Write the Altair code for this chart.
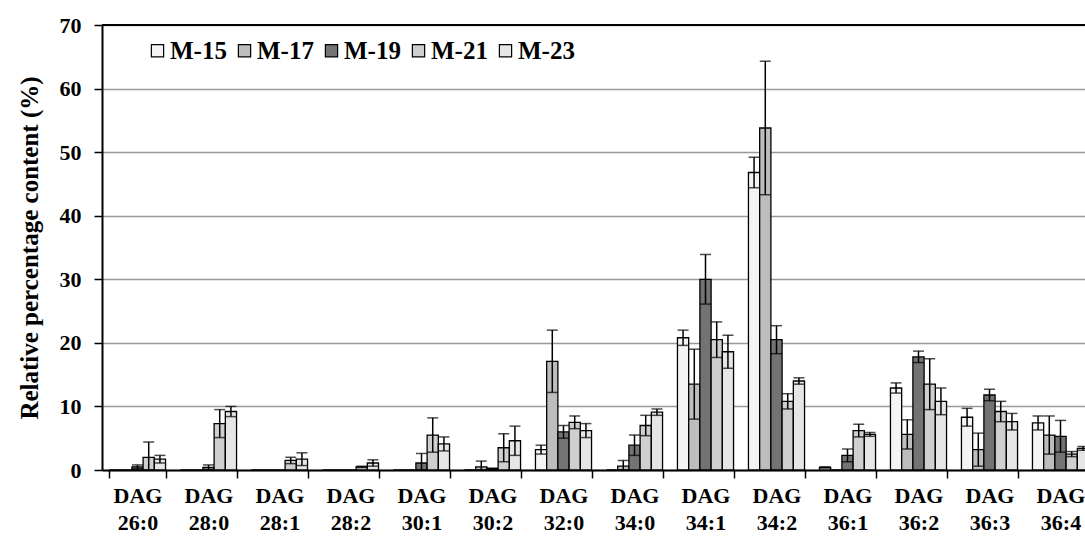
import altair as alt
import pandas as pd

# Diacylglycerol species and sampling points
categories = ["DAG 26:0", "DAG 28:0", "DAG 28:1", "DAG 28:2", "DAG 30:1", "DAG 30:2",
              "DAG 32:0", "DAG 34:0", "DAG 34:1", "DAG 34:2", "DAG 36:1", "DAG 36:2",
              "DAG 36:3", "DAG 36:4"]
series = ["M-15", "M-17", "M-19", "M-21", "M-23"]

# Mean relative content (%) and standard deviation per sample
m15 = [0, 0, 0, 0, 0, 0, 3.2, 0, 20.8, 46.8, 0.4, 12.9, 8.3, 7.4]
m15_sd = [0, 0, 0, 0, 0, 0, 0.7, 0, 1.2, 2.4, 0.1, 0.8, 1.4, 1.1]
m17 = [0, 0, 0, 0, 0, 0.5, 17.1, 0.6, 13.5, 53.8, 0, 5.6, 3.2, 5.5]
m17_sd = [0, 0, 0, 0, 0, 0.9, 4.9, 0.9, 5.5, 10.5, 0, 2.3, 2.6, 3.0]
m19 = [0.5, 0.4, 0, 0, 1.1, 0.2, 6.0, 3.9, 30.0, 20.5, 2.3, 17.8, 11.8, 5.3]
m19_sd = [0.3, 0.4, 0, 0, 1.5, 0.1, 1.0, 1.6, 3.9, 2.2, 1.0, 0.9, 0.9, 2.5]
m21 = [2.0, 7.3, 1.5, 0.5, 5.5, 3.5, 7.5, 7.0, 20.5, 10.8, 6.2, 13.5, 9.2, 2.5]
m21_sd = [2.4, 2.2, 0.5, 0.1, 2.7, 2.2, 1.0, 1.6, 2.8, 1.2, 1.0, 4.0, 1.6, 0.4]
m23 = [1.7, 9.2, 1.7, 1.1, 4.1, 4.6, 6.2, 9.1, 18.6, 14.0, 5.6, 10.8, 7.6, 3.4]
m23_sd = [0.6, 0.8, 1.0, 0.5, 1.1, 2.3, 1.1, 0.5, 2.6, 0.5, 0.3, 2.1, 1.3, 0.3]

fills = ["#f4f4f4", "#bdbdbd", "#737373", "#cfcfcf", "#e6e6e6"]

rows = []
for name, vals, sds in zip(series, [m15, m17, m19, m21, m23],
                           [m15_sd, m17_sd, m19_sd, m21_sd, m23_sd]):
    for cat, v, sd in zip(categories, vals, sds):
        rows.append({"species": cat, "sample": name, "value": v, "sd": sd,
                     "lo": max(0.0, v - sd), "hi": v + sd})
df = pd.DataFrame(rows)

FONT = "Liberation Serif"

x_enc = alt.X("species:N", sort=categories,
              scale=alt.Scale(range=[0, 994], paddingInner=0.21, paddingOuter=0.105),
              axis=alt.Axis(title=None, labelAngle=0, labelExpr="split(datum.label, ' ')",
                            labelFont=FONT, labelFontWeight="bold", labelFontSize=22,
                            labelColor="black", labelLineHeight=27, labelPadding=7,
                            tickBand="extent", tickSize=8, tickWidth=1.5, tickColor="black",
                            domainColor="black", domainWidth=2, grid=False))
xoff = alt.XOffset("sample:N", sort=series,
                   scale=alt.Scale(paddingInner=0, paddingOuter=0))
y_scale = alt.Scale(domain=[0, 70], nice=False)

base = alt.Chart(df)

bars = base.mark_bar(stroke="black", strokeWidth=1.3).encode(
    x=x_enc,
    xOffset=xoff,
    y=alt.Y("value:Q", scale=y_scale,
            axis=alt.Axis(title="Relative percentage content (%)", values=list(range(0, 71, 10)),
                          titleFont=FONT, titleFontWeight="bold", titleFontSize=25,
                          titleColor="black", titlePadding=17,
                          labelFont=FONT, labelFontWeight="bold", labelFontSize=22,
                          labelColor="black", labelPadding=13,
                          tickSize=8, tickWidth=1.5, tickColor="black",
                          domainColor="black", domainWidth=2,
                          grid=True, gridColor="#999999", gridWidth=1.5)),
    fill=alt.Fill("sample:N", sort=series,
                  scale=alt.Scale(domain=series, range=fills),
                  legend=alt.Legend(orient="none", legendX=43, legendY=13,
                                    direction="horizontal", title=None,
                                    symbolType="square", symbolSize=150,
                                    symbolStrokeColor="black", symbolStrokeWidth=1.2,
                                    labelFont=FONT, labelFontWeight="bold",
                                    labelFontSize=25, labelColor="black",
                                    labelOffset=0, columnPadding=5)),
)

err = base.transform_filter("datum.sd > 0")

whisker = err.mark_rule(color="black", strokeWidth=1.5).encode(
    x=alt.X("species:N", sort=categories), xOffset=xoff,
    y=alt.Y("lo:Q", scale=y_scale), y2="hi:Q")

cap_hi = err.mark_tick(color="black", size=11, thickness=1.5).encode(
    x=alt.X("species:N", sort=categories), xOffset=xoff,
    y=alt.Y("hi:Q", scale=y_scale))

cap_lo = err.mark_tick(color="black", size=11, thickness=1.5).encode(
    x=alt.X("species:N", sort=categories), xOffset=xoff,
    y=alt.Y("lo:Q", scale=y_scale))

top_line = alt.Chart().mark_rule(color="black", strokeWidth=2).encode(y=alt.datum(70))

chart = alt.layer(bars, whisker, cap_hi, cap_lo, top_line).properties(
    width=983, height=445,
    autosize=alt.AutoSizeParams(type="none"),
    padding={"left": 102, "top": 25, "right": 0, "bottom": 72},
).configure_view(stroke=None).configure(background="white")

chart.save("out.html", embed_options={"renderer": "svg", "actions": False})
